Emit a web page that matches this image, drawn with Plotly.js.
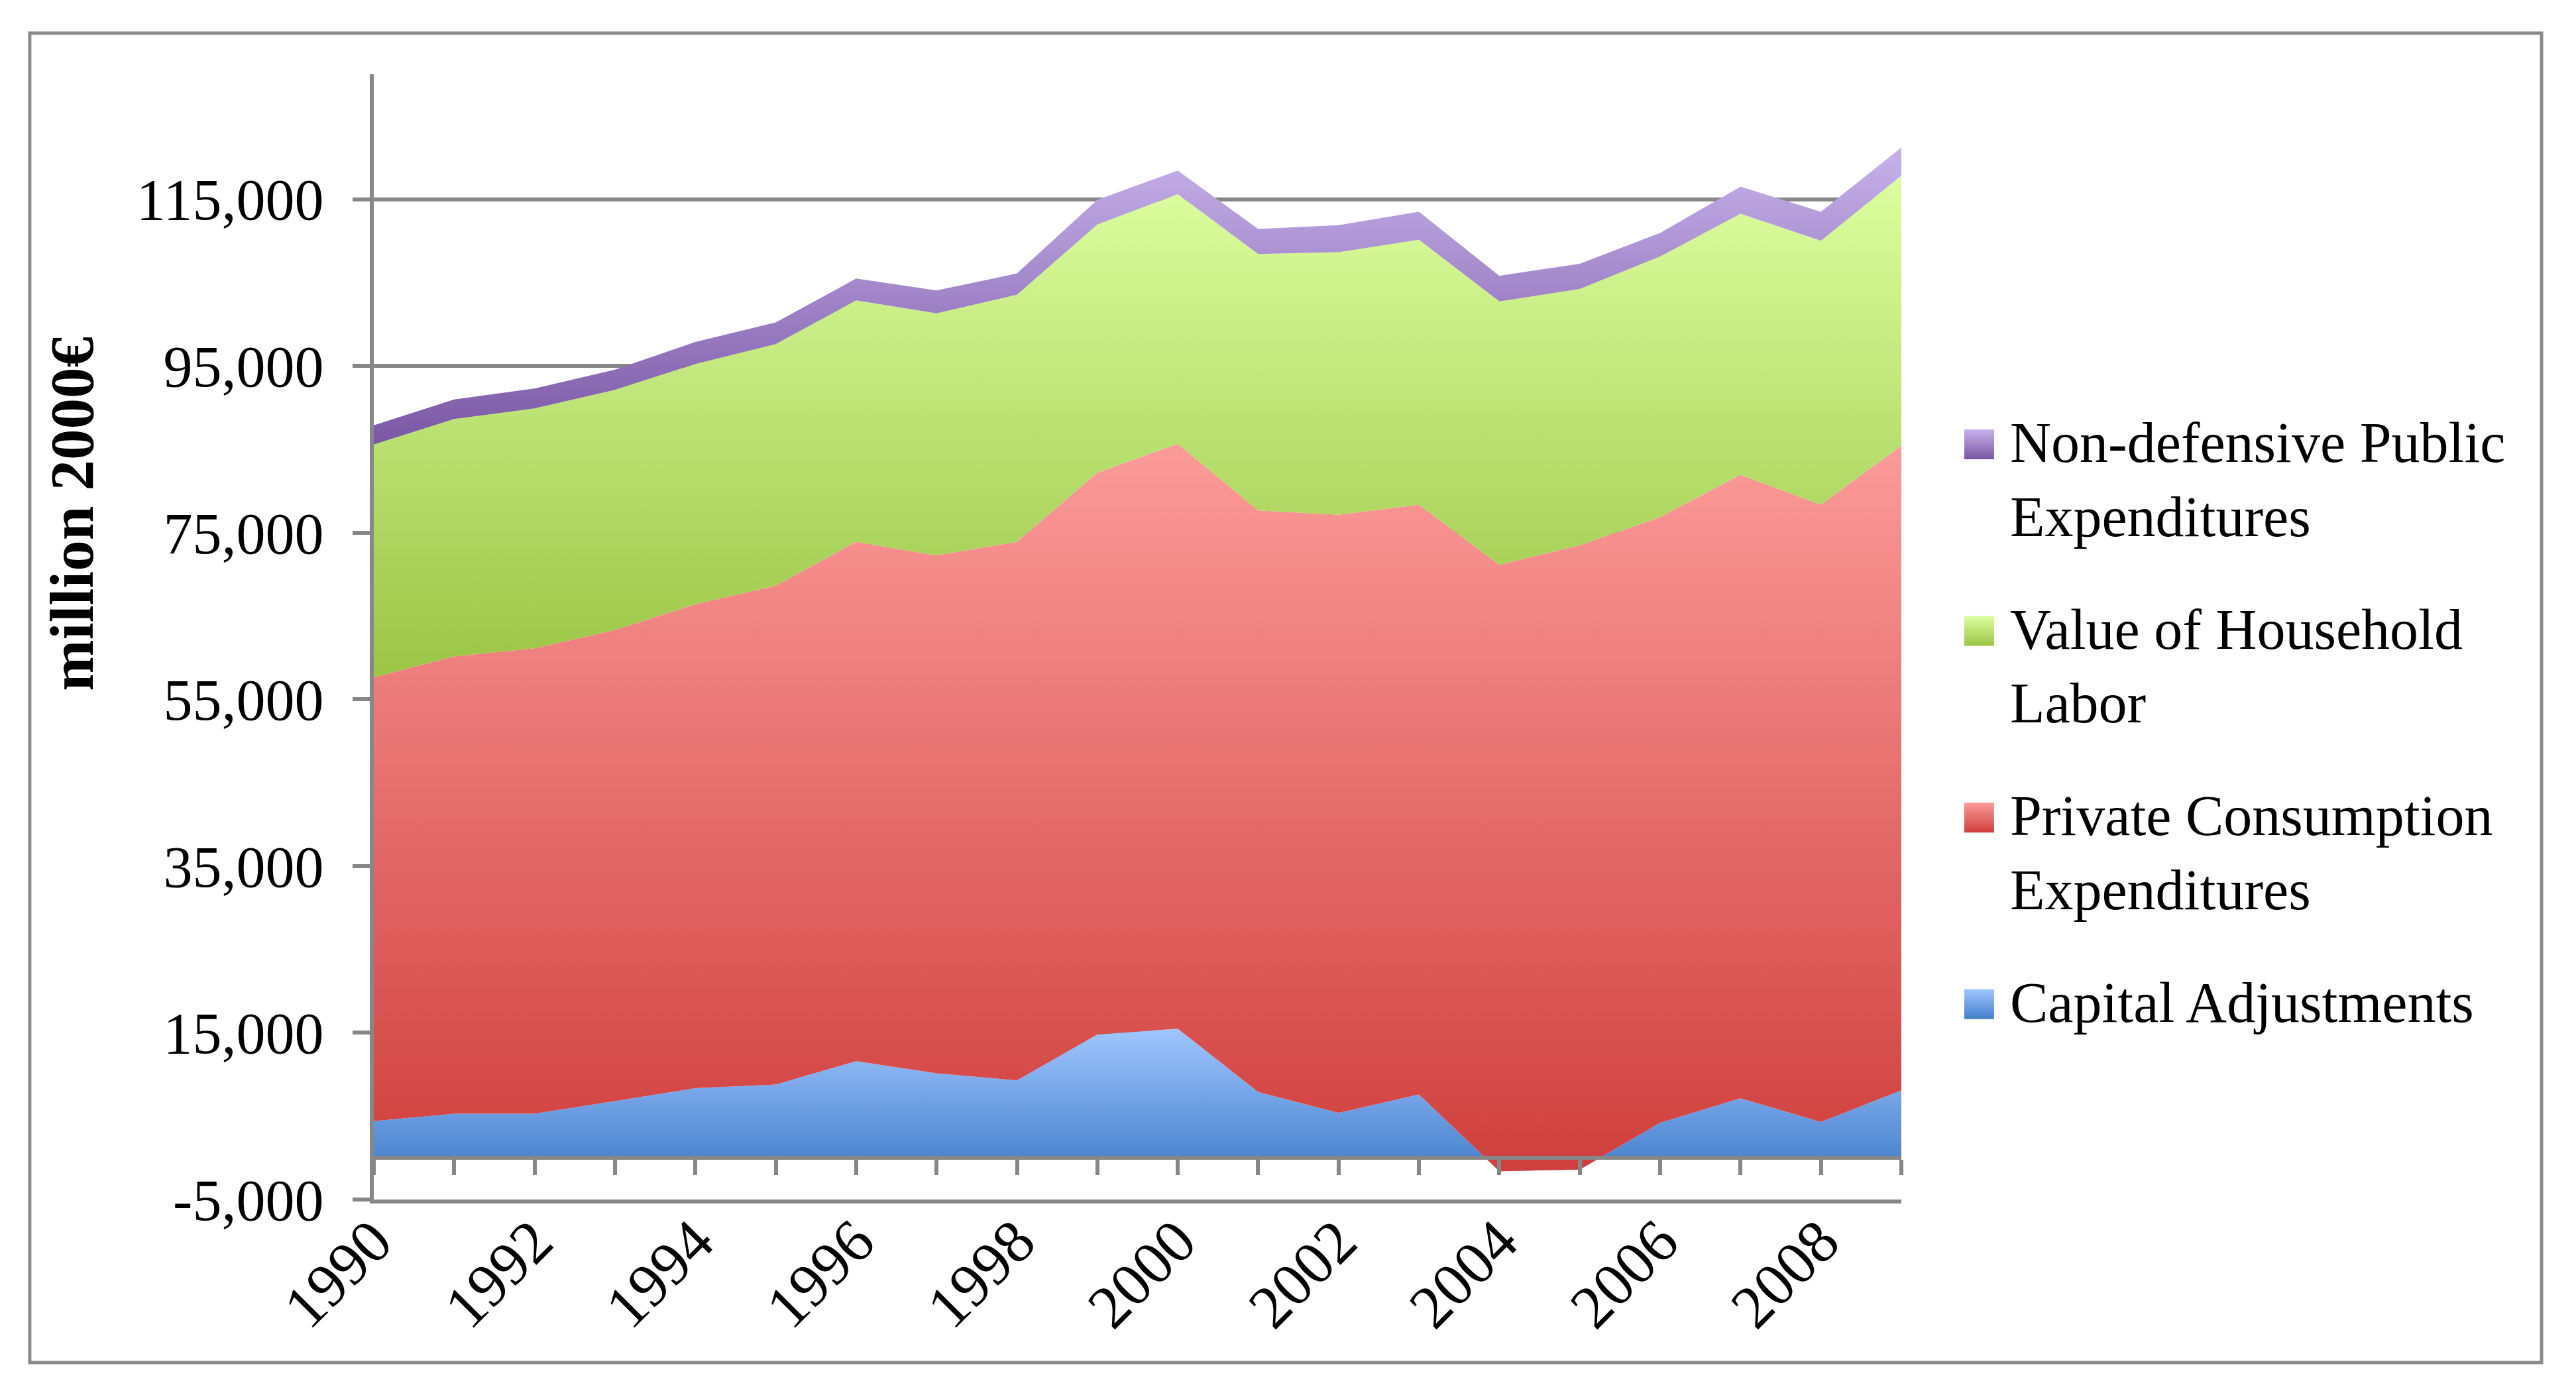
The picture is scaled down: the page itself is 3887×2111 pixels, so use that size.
<!DOCTYPE html>
<html>
<head>
<meta charset="utf-8">
<script src="https://cdn.plot.ly/plotly-3.0.1.min.js"></script>
<style>html,body{margin:0;padding:0;background:#ffffff;}</style>
</head>
<body>
<div id="chart" style="width:3887px;height:2111px;"></div>
<script>
// ---------- data (million 2000 €) ----------
const years = [1990, 1991, 1992, 1993, 1994, 1995, 1996, 1997, 1998, 1999,
               2000, 2001, 2002, 2003, 2004, 2005, 2006, 2007, 2008, 2009];
const capitalAdjustments = [4400, 5300, 5300, 6800, 8350, 8800, 11600, 10150, 9300, 14800,
                            15500, 7900, 5400, 7600, -1600, -1400, 4200, 7150, 4300, 8100];
const privateConsumption = [53240, 54850, 55830, 56520, 58060, 59840, 62300, 62130, 64600, 67400,
                            70150, 69770, 71740, 70760, 72750, 74900, 72660, 74780, 74060, 77340];
const householdLabor = [27930, 28490, 28770, 28810, 28830, 28990, 28960, 29040, 29650, 29770,
                        29960, 30770, 31510, 31790, 31590, 30740, 31270, 31340, 31660, 32400];
const publicExpenditures = [2310, 2350, 2390, 2430, 2640, 2600, 2630, 2750, 2550, 2960,
                            2840, 3000, 3240, 3360, 3080, 3030, 2830, 3240, 3490, 3370];
const seriesNames = ['Capital Adjustments',
                     'Private Consumption<br>Expenditures',
                     'Value of Household<br>Labor',
                     'Non-defensive Public<br>Expenditures'];
const yTickValues = [-5000, 15000, 35000, 55000, 75000, 95000, 115000];
const xLabelYears = [1990, 1992, 1994, 1996, 1998, 2000, 2002, 2004, 2006, 2008];
const yAxisTitle = 'million 2000€';

// ---------- styles ----------
const gradients = [
  ['#447fcb', '#a0c6ff'],   // blue
  ['#cf3f3d', '#fb9b99'],   // red
  ['#9bc545', '#ddfea0'],   // green
  ['#7a57a4', '#c7b2eb']    // purple
];
const FONT = 'Liberation Serif, Times New Roman, serif';
const GREY = '#878787';

// stacked bounds used only for the gradient extents of each area shape
const seriesList = [capitalAdjustments, privateConsumption, householdLabor, publicExpenditures];
const cum = [];
let prev = years.map(() => 0);
seriesList.forEach(s => { const c = s.map((v, i) => v + prev[i]); cum.push({lo: prev, hi: c}); prev = c; });

const traces = seriesList.map((s, k) => {
  const lowB = k === 0 ? Math.min(0, ...cum[k].hi) : Math.min(...cum[k].lo);
  const hiB = Math.max(...cum[k].hi);
  return {
    type: 'scatter', mode: 'none', x: years, y: s,
    stackgroup: 'one', name: seriesNames[k], legendgroup: 'g' + k,
    legendrank: seriesList.length - k,
    line: {width: 0},
    fillgradient: {type: 'vertical', start: lowB, stop: hiB,
                   colorscale: [[0, gradients[k][0]], [1, gradients[k][1]]]},
    hoverinfo: 'x+y+name'
  };
});

const yMin = -5000, yMax = 130000;
const layout = {
  width: 3887, height: 2111,
  margin: {l: 564, r: 1018, t: 112, b: 301, pad: 0},
  paper_bgcolor: '#ffffff', plot_bgcolor: 'rgba(0,0,0,0)',
  font: {family: FONT, size: 86, color: '#000000'},
  showlegend: true,
  legend: {
    x: 1.0390, xanchor: 'left', y: 0.712, yanchor: 'top',
    traceorder: 'grouped', tracegroupgap: 55,
    itemwidth: 64, valign: 'top',
    font: {family: FONT, size: 86, color: '#000000'},
    bgcolor: 'rgba(0,0,0,0)', borderwidth: 0
  },
  xaxis: {
    range: [years[0], years[years.length - 1]],
    anchor: 'free', position: (0 - yMin) / (yMax - yMin),
    showline: true, linecolor: GREY, linewidth: 6,
    ticks: 'outside', ticklen: 23, tickwidth: 6, tickcolor: GREY,
    tick0: years[0], dtick: 1, showticklabels: false,
    showgrid: false, zeroline: false, layer: 'above traces'
  },
  xaxis2: {
    overlaying: 'x', anchor: 'y', side: 'bottom',
    range: [years[0], years[years.length - 1]],
    tickmode: 'array', tickvals: xLabelYears, ticktext: xLabelYears.map(String),
    tickangle: -45, ticks: '', showline: true, linecolor: GREY, linewidth: 6,
    ticklabelstandoff: -34,
    tickfont: {family: FONT, size: 92, color: '#000000'},
    showgrid: false, zeroline: false
  },
  yaxis: {
    range: [yMin, yMax],
    tickmode: 'array', tickvals: yTickValues,
    ticktext: yTickValues.map(v => v.toLocaleString('en-US')),
    showline: true, linecolor: GREY, linewidth: 6,
    ticks: 'outside', ticklen: 26, tickwidth: 6, tickcolor: GREY,
    ticklabelstandoff: 26,
    showgrid: true, gridcolor: GREY, gridwidth: 6, zeroline: false,
    tickfont: {family: FONT, size: 88, color: '#000000'}
  },
  annotations: [{
    text: yAxisTitle, textangle: -90, showarrow: false,
    xref: 'paper', yref: 'paper', x: -0.198, y: 0.6095,
    xanchor: 'center', yanchor: 'middle',
    font: {family: FONT, size: 93, color: '#000000', weight: 'bold'}
  }],
  shapes: [{
    type: 'rect', xref: 'paper', yref: 'paper', layer: 'below',
    x0: -0.2252, x1: 1.4191, y0: -0.1449, y1: 1.0365,
    line: {color: '#8a8a8a', width: 5}, fillcolor: 'rgba(0,0,0,0)'
  }]
};

// an invisible helper trace on xaxis2 so the label axis is drawn
traces.push({type: 'scatter', x: [years[0]], y: [null], xaxis: 'x2', yaxis: 'y',
             showlegend: false, hoverinfo: 'skip', mode: 'none'});

Plotly.newPlot('chart', traces, layout, {staticPlot: true}).then(gd => {
  // square gradient swatches aligned with the first line of each legend text
  document.querySelectorAll('.legend .traces').forEach(g => {
    const txt = g.querySelector('.legendtext');
    const path = g.querySelector('.legendfill path');
    if (!txt || !path) return;
    const bb = txt.getBBox();
    const tm = txt.getCTM(), pm = path.getCTM();
    const dy = (tm && pm) ? (tm.f - pm.f) : 0;
    const top = bb.y + 28 + dy;
    path.setAttribute('d', 'M5,' + top + 'h45v45h-45z');
  });
});
</script>
</body>
</html>
